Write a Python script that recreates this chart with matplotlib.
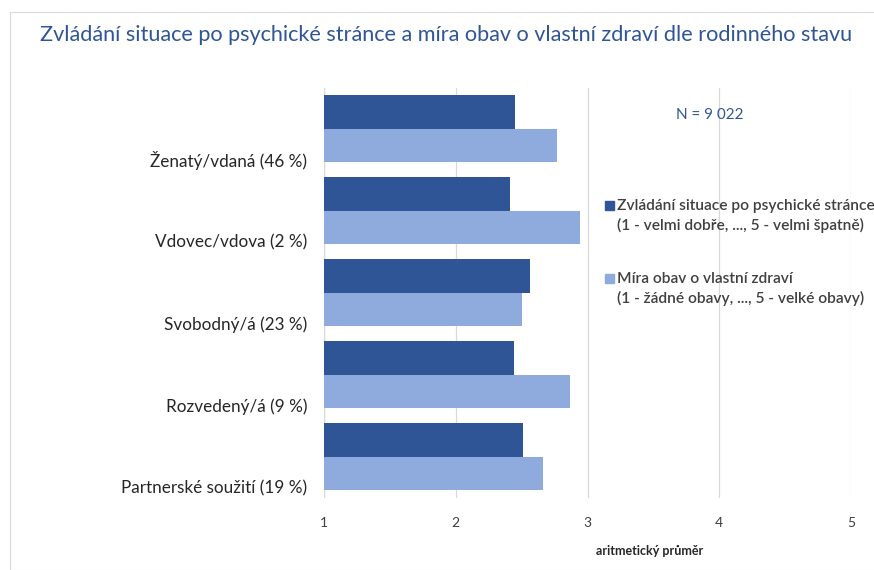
import numpy as np
import matplotlib.pyplot as plt
from matplotlib.patches import Rectangle

plt.rcParams['font.family'] = ['Lato', 'DejaVu Sans']

categories = ["Ženatý/vdaná (46 %)", "Vdovec/vdova (2 %)", "Svobodný/á (23 %)",
              "Rozvedený/á (9 %)", "Partnerské soužití (19 %)"]
coping = [2.45, 2.41, 2.56, 2.44, 2.51]
worry = [2.77, 2.94, 2.50, 2.87, 2.66]
series_labels = ["Zvládání situace po psychické stránce\n(1 - velmi dobře, ..., 5 - velmi špatně)",
                 "Míra obav o vlastní zdraví\n(1 - žádné obavy, ..., 5 - velké obavy)"]
xticks = [1, 2, 3, 4, 5]

dark = '#2F5597'
light = '#8FAADC'
W, H = 874, 570

fig = plt.figure(figsize=(W / 100, H / 100), dpi=100)
ax = fig.add_axes([324 / W, 1 - 497.5 / H, 527 / W, 410 / H])

y = np.arange(len(categories))[::-1]
h = 0.406
ax.barh(y + h / 2, np.array(coping) - 1, left=1, height=h, color=dark, zorder=3)
ax.barh(y - h / 2, np.array(worry) - 1, left=1, height=h, color=light, zorder=3)

ax.set_xlim(1, 5)
ax.set_ylim(-0.5, len(categories) - 0.5)
ax.set_xticks(xticks)
ax.set_xticklabels([str(t) for t in xticks], fontsize=10, color='#404040')
# category labels sit a bit low, level with the light bars
ax.set_yticks(y - 0.37)
ax.set_yticklabels(categories, fontsize=12.3, color='#262626')
ax.tick_params(axis='x', length=0, pad=14)
ax.tick_params(axis='y', length=0, pad=12)
ax.grid(axis='x', color='#D9D9D9', linewidth=0.9, zorder=0)
for s in ax.spines.values():
    s.set_visible(False)
ax.axvline(1, color='#D9D9D9', linewidth=0.9, zorder=1)

ax.set_xlabel("aritmetický průměr", fontsize=9, fontweight='bold', color='#262626')
ax.xaxis.set_label_coords(0.617, -0.115)

fig.text(710 / W, 1 - 115 / H, "N = 9 022", fontsize=11, color=dark,
         ha='center', va='center')

fig.text(40 / W, 1 - 35 / H,
         "Zvládání situace po psychické stránce a míra obav o vlastní zdraví dle rodinného stavu",
         fontsize=15.6, color=dark, ha='left', va='center')

# legend drawn by hand so the markers line up with the first text line
for (label, color, ytop) in zip(series_labels, [dark, light], [205, 278]):
    fig.patches.append(Rectangle((605 / W, 1 - (ytop + 5) / H), 9 / W, 9 / H,
                                 transform=fig.transFigure, color=color))
    fig.text(617 / W, 1 - (ytop + 11) / H, label, fontsize=11.2, fontweight='semibold',
             color='#404040', ha='left', va='center', linespacing=1.45)

fig.patches.append(Rectangle((10 / W, 0), 1, 1 - 12 / H, transform=fig.transFigure,
                             fill=False, edgecolor='#D9D9D9', linewidth=0.8))

fig.savefig('out.png', dpi=100)
